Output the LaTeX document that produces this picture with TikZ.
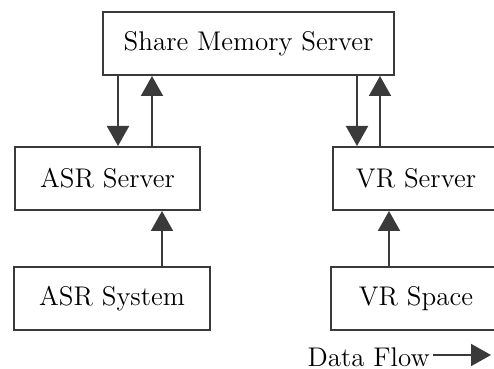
\documentclass[tikz,border=0pt]{standalone}
\usepackage{tikz}
\usetikzlibrary{arrows.meta}

\definecolor{ink}{HTML}{3A3A3A}

\begin{document}
\begin{tikzpicture}[x=0.5pt,y=-0.5pt,
    box/.style={draw=ink, line width=1pt, minimum height=31.5pt, inner sep=0pt,
        font=\fontsize{13.5}{15}\selectfont},
    flow/.style={draw=ink, line width=1pt, -{Triangle[length=10pt,width=11pt]}, color=ink}]
    \useasboundingbox (0,0) rectangle (494,369);
    \clip (0,0) rectangle (494,369);
    % boxes, placed at pixel coordinates of the picture
    \node[box, minimum width=145.5pt] (mem) at (248.5,43.5) {Share Memory Server};
    \node[box, minimum width=92.5pt] (asrsrv) at (107.5,178.5) {ASR Server};
    \node[box, minimum width=83pt] (vrsrv) at (416,178.5) {VR Server};
    \node[box, minimum width=98pt] (asrsys) at (112,298.5) {ASR System};
    \node[box, minimum width=85pt] (vrspace) at (416,298.5) {VR Space};
    % connectors
    \draw[flow] (mem.south -| 118,0) -- (asrsrv.north -| 118,0);
    \draw[flow] (asrsrv.north -| 152,0) -- (mem.south -| 152,0);
    \draw[flow] (asrsys.north -| 162,0) -- (asrsrv.south -| 162,0);
    \draw[flow] (mem.south -| 357,0) -- (vrsrv.north -| 357,0);
    \draw[flow] (vrsrv.north -| 380,0) -- (mem.south -| 380,0);
    \draw[flow] (vrspace.north -| 389,0) -- (vrsrv.south -| 389,0);
    % legend
    \node[font=\fontsize{13.5}{15}\selectfont, inner sep=0pt, anchor=east] (legend) at (430,357) {Data Flow};
    \coordinate (legendend) at (491,355);
    \draw[flow] (legend.east |- legendend) ++(3,0) -- (legendend);
\end{tikzpicture}
\end{document}
